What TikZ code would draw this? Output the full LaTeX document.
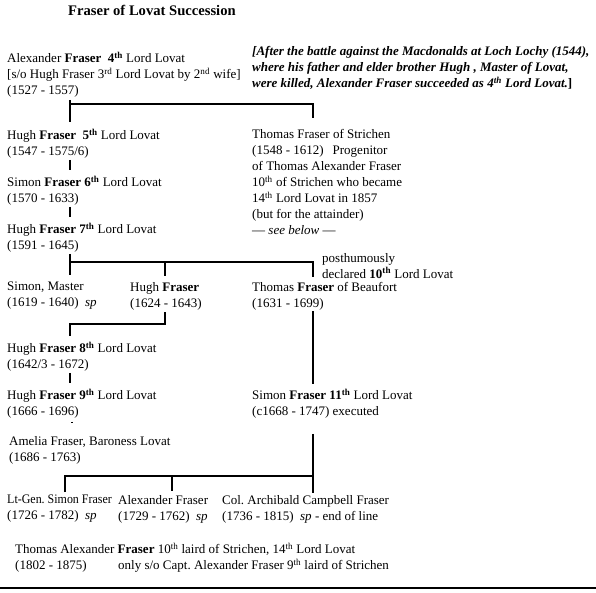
\documentclass[tikz,border=0pt]{standalone}
\usepackage{fontspec}
\setmainfont{Liberation Serif}
\frenchspacing
\begin{document}
\begin{tikzpicture}[x=1pt,y=-1pt,
  txt/.style={anchor=north west, inner sep=0pt, align=left, font=\fontsize{13}{16}\selectfont},
  link/.style={line width=1.7pt},
  dotlink/.style={line width=1.6pt, dash pattern=on 1.5pt off 8pt}]
\useasboundingbox (0,0) rectangle (596,592);
\node[anchor=north west, inner sep=0pt, font=\fontsize{14.6}{16}\selectfont\bfseries] (title) at (68,5) {Fraser of Lovat Succession};
\node[txt] (alex) at (7,52) {Alexander \textbf{Fraser}\ \ \textbf{4\textsuperscript{th}} Lord Lovat\\{}[s/o Hugh Fraser 3\textsuperscript{rd} Lord Lovat by 2\textsuperscript{nd} wife]\\(1527 - 1557)};
\node[txt, font=\fontsize{13}{16}\selectfont\bfseries\itshape] (note) at (252,46) {[After the battle against the Macdonalds at Loch Lochy (1544),\\ where his father and elder brother Hugh , Master of Lovat,\\ were killed, Alexander Fraser succeeded as 4\textsuperscript{th} Lord Lovat.\textup{]}};
\node[txt] (hugh5) at (7,129) {Hugh \textbf{Fraser}\ \ \textbf{5\textsuperscript{th}} Lord Lovat\\(1547 - 1575/6)};
\node[txt] (thomasS) at (252,129) {Thomas Fraser of Strichen\\(1548 - 1612)\hspace{9pt}Progenitor\\of Thomas Alexander Fraser\\10\textsuperscript{th} of Strichen who became\\14\textsuperscript{th} Lord Lovat in 1857\\(but for the attainder)\\--- \textit{see below} ---};
\node[txt] (simon6) at (7,176) {Simon \textbf{Fraser 6\textsuperscript{th}} Lord Lovat\\(1570 - 1633)};
\node[txt] (hugh7) at (7,223) {Hugh \textbf{Fraser 7\textsuperscript{th}} Lord Lovat\\(1591 - 1645)};
\node[txt] (posth) at (322,253) {posthumously\\declared \textbf{10\textsuperscript{th}} Lord Lovat};
\node[txt] (simonM) at (7,282) {Simon, Master\\(1619 - 1640)\ \ \textit{sp}};
\node[txt] (hughF) at (130,282) {Hugh \textbf{Fraser}\\(1624 - 1643)};
\node[txt] (thomasB) at (252,282) {Thomas \textbf{Fraser} of Beaufort\\(1631 - 1699)};
\node[txt] (hugh8) at (7,342) {Hugh \textbf{Fraser 8\textsuperscript{th}} Lord Lovat\\(1642/3 - 1672)};
\node[txt] (hugh9) at (7,389) {Hugh \textbf{Fraser 9\textsuperscript{th}} Lord Lovat\\(1666 - 1696)};
\node[txt] (simon11) at (252,389) {Simon \textbf{Fraser 11\textsuperscript{th}} Lord Lovat\\(c1668 - 1747) executed};
\node[txt] (amelia) at (9,436) {Amelia Fraser, Baroness Lovat\\(1686 - 1763)};
\node[txt] (ltgen) at (7,495) {\scalebox{0.92}[1]{Lt-Gen. Simon Fraser}\\(1726 - 1782)\ \ \textit{sp}};
\node[txt] (alexF) at (118,495) {Alexander Fraser\\(1729 - 1762)\ \ \textit{sp}};
\node[txt] (col) at (222,495) {Col. Archibald Campbell Fraser\\(1736 - 1815)\ \ \textit{sp} - end of line};
\node[txt] (thomasA) at (15,543) {Thomas Alexander \textbf{Fraser} 10\textsuperscript{th} laird of Strichen, 14\textsuperscript{th} Lord Lovat\\\makebox[103pt][l]{(1802 - 1875)}only s/o Capt. Alexander Fraser 9\textsuperscript{th} laird of Strichen};
% junctions
\coordinate (c1) at (70,104);
\coordinate (c2) at (313,104);
\coordinate (c3) at (70,262);
\coordinate (c4) at (313,262);
\coordinate (c5) at (165,262);
\coordinate (c6) at (165,324);
\coordinate (c7) at (70,324);
\coordinate (c8) at (65,476);
\coordinate (c9) at (313,476);
\coordinate (c10) at (172,476);
% connectors
\draw[link, shorten <=2pt, shorten >=7pt] (alex.south -| c1) -- (hugh5.north -| c1);
\draw[link, shorten >=11pt] (c1) -- (c2) -- (thomasS.north -| c2);
\draw[link, shorten <=1pt, shorten >=6pt] (hugh5.south -| c1) -- (simon6.north -| c1);
\draw[link, shorten <=1pt, shorten >=6pt] (simon6.south -| c1) -- (hugh7.north -| c1);
\draw[link, shorten <=1pt, shorten >=7pt] (hugh7.south -| c3) -- (simonM.north -| c3);
\draw[link, shorten >=5pt] (c3) -- (c4) -- (thomasB.north -| c4);
\draw[link, shorten >=6pt] (c5) -- (hughF.north -| c5);
\draw[link, shorten <=2pt, shorten >=6pt] (hughF.south -| c6) -- (c6) -- (c7) -- (hugh8.north -| c7);
\draw[link, shorten <=1pt, shorten >=6pt] (hugh8.south -| c7) -- (hugh9.north -| c7);
\draw[dotlink, shorten <=3pt, shorten >=5pt] (hugh9.south -| 72,0) -- (amelia.north -| 72,0);
\draw[link, shorten <=1pt, shorten >=5pt] (thomasB.south -| c4) -- (simon11.north -| c4);
\draw[link, shorten <=15pt, shorten >=2pt] (simon11.south -| c9) -- (col.north -| c9);
\draw[link, shorten <=3pt] (ltgen.north -| c8) -- (c8) -- (c9);
\draw[link, shorten >=4pt] (c10) -- (alexF.north -| c10);
% bottom rule
\draw[line width=2pt] (0,588) -- (596,588);
\end{tikzpicture}
\end{document}
